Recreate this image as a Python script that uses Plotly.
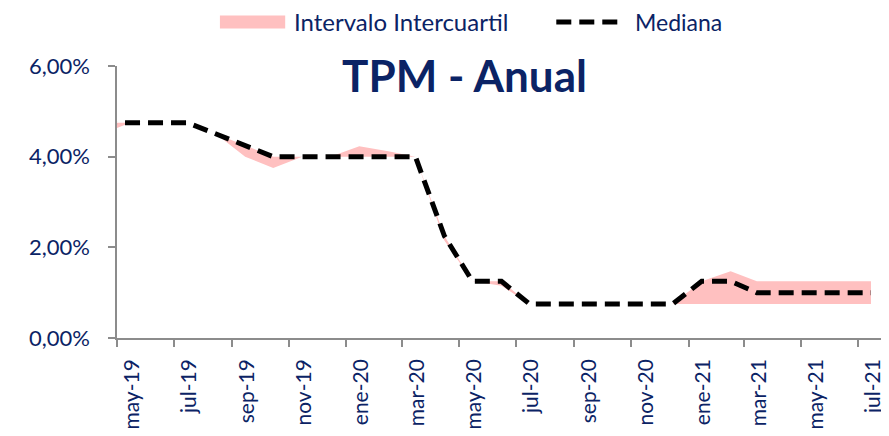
import plotly.graph_objects as go

# ---- data ----
months = ["2019-04", "2019-05", "2019-06", "2019-07", "2019-08", "2019-09", "2019-10",
          "2019-11", "2019-12", "2020-01", "2020-02", "2020-03", "2020-04", "2020-05",
          "2020-06", "2020-07", "2020-08", "2020-09", "2020-10", "2020-11", "2020-12",
          "2021-01", "2021-02", "2021-03", "2021-04", "2021-05", "2021-06", "2021-07"]
mediana = [4.75, 4.75, 4.75, 4.75, 4.50, 4.25, 4.00,
           4.00, 4.00, 4.00, 4.00, 4.00, 2.25, 1.25,
           1.25, 0.75, 0.75, 0.75, 0.75, 0.75, 0.75,
           1.25, 1.25, 1.00, 1.00, 1.00, 1.00, 1.00]
p25 = [4.50, 4.75, 4.75, 4.75, 4.50, 4.00, 3.75,
       4.00, 4.00, 4.00, 4.00, 4.00, 2.15, 1.25,
       1.15, 0.75, 0.75, 0.75, 0.75, 0.75, 0.75,
       0.75, 0.75, 0.75, 0.75, 0.75, 0.75, 0.75]
p75 = [4.75, 4.75, 4.75, 4.75, 4.50, 4.25, 4.00,
       4.00, 4.00, 4.23, 4.12, 4.00, 2.25, 1.25,
       1.25, 0.75, 0.75, 0.75, 0.75, 0.75, 0.75,
       1.25, 1.47, 1.25, 1.25, 1.25, 1.25, 1.25]

tick_months = ["2019-05", "2019-07", "2019-09", "2019-11", "2020-01", "2020-03", "2020-05",
               "2020-07", "2020-09", "2020-11", "2021-01", "2021-03", "2021-05", "2021-07"]
tick_labels = ["may-19", "jul-19", "sep-19", "nov-19", "ene-20", "mar-20", "may-20",
               "jul-20", "sep-20", "nov-20", "ene-21", "mar-21", "may-21", "jul-21"]
y_ticks = [0, 2, 4, 6]
y_labels = ["0,00%", "2,00%", "4,00%", "6,00%"]

title_text = "TPM - Anual"
legend_band = "Intervalo Intercuartil"
legend_median = "Mediana"

# ---- styling ----
NAVY = "#0B2365"
PINK = "#FFC0C0"
AXIS = "#8C8C8C"
FONT = "Lato"

dates = [m + "-15" for m in months]
tick_dates = [m + "-01" for m in tick_months]

fig = go.Figure()
fig.add_trace(go.Scatter(x=dates, y=p25, mode="lines", line=dict(width=0, color=PINK),
                         showlegend=False, hoverinfo="skip"))
fig.add_trace(go.Scatter(x=dates, y=p75, mode="lines", line=dict(width=0, color=PINK),
                         fill="tonexty", fillcolor=PINK, name=legend_band, showlegend=False))
fig.add_trace(go.Scatter(x=dates, y=mediana, mode="lines",
                         line=dict(color="black", width=5, dash="15px,8px"),
                         name=legend_median, showlegend=False))

# manual legend (matches the wide swatches of the original)
fig.add_shape(type="rect", xref="paper", yref="paper", x0=0.134, x1=0.219, y0=1.138, y1=1.186,
              fillcolor=PINK, line=dict(width=0))
fig.add_annotation(xref="paper", yref="paper", x=0.228, y=1.162, text=legend_band,
                   showarrow=False, xanchor="left", yanchor="middle",
                   font=dict(family=FONT, size=24, color=NAVY))
fig.add_shape(type="line", xref="paper", yref="paper", x0=0.572, x1=0.652, y0=1.162, y1=1.162,
              line=dict(color="black", width=5, dash="15px,8px"))
fig.add_annotation(xref="paper", yref="paper", x=0.672, y=1.162, text=legend_median,
                   showarrow=False, xanchor="left", yanchor="middle",
                   font=dict(family=FONT, size=23, color=NAVY))

# title inside plot area
fig.add_annotation(xref="paper", yref="paper", x=0.453, y=0.968, text=title_text,
                   showarrow=False, xanchor="center", yanchor="middle",
                   font=dict(family=FONT, size=44, color=NAVY, weight="bold"))

# the page body adds an 8px offset, so the figure is 881x428 placed at (8, 8)
fig.update_layout(
    width=881, height=428,
    margin=dict(l=109, r=4, t=58, b=98, autoexpand=False),
    paper_bgcolor="white", plot_bgcolor="white",
    showlegend=False,
    font=dict(family=FONT, color=NAVY),
)
fig.update_xaxes(
    type="date", range=["2019-05-01", "2021-07-30"],
    tickvals=tick_dates, ticktext=tick_labels, tickangle=-90,
    tickfont=dict(family=FONT, size=21, color=NAVY),
    showline=True, linecolor=AXIS, linewidth=1.5,
    ticks="outside", ticklen=7, tickwidth=1.5, tickcolor=AXIS,
    showgrid=False, zeroline=False, automargin=False,
    ticklabelshift=15, ticklabelstandoff=4,
)
fig.update_yaxes(
    range=[0, 6], tickvals=y_ticks, ticktext=y_labels,
    tickfont=dict(family=FONT, size=22, color=NAVY),
    showline=True, linecolor=AXIS, linewidth=1.5,
    ticks="outside", ticklen=7, tickwidth=1.5, tickcolor=AXIS,
    showgrid=False, zeroline=False, automargin=False,
    ticklabelstandoff=14,
)

fig.write_html("out.html")
